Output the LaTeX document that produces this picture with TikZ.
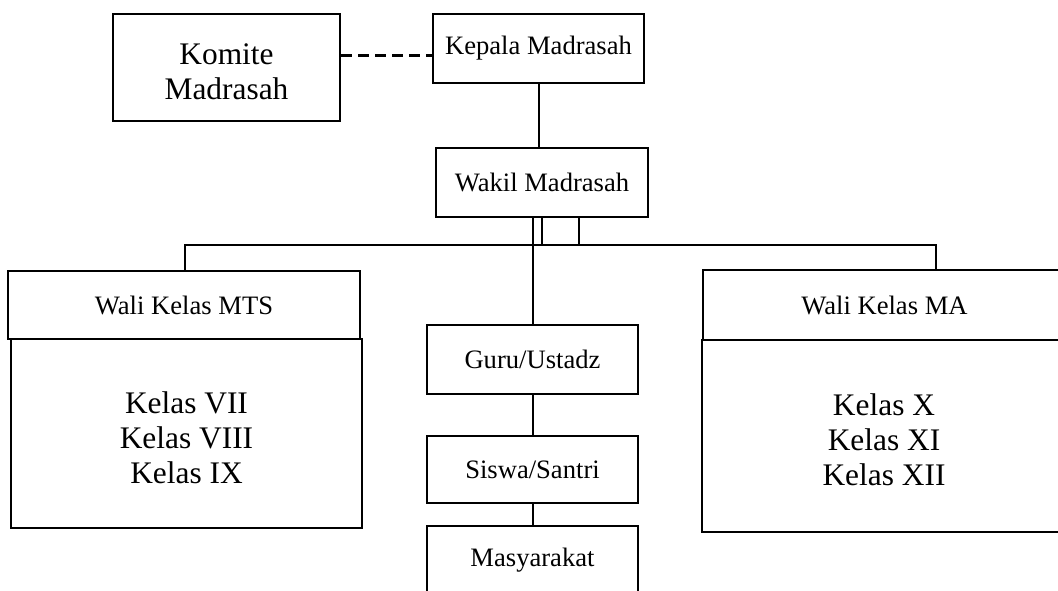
\documentclass[tikz,border=0pt]{standalone}
\usepackage{fontspec}
\setmainfont{Liberation Serif}
\begin{document}
\begin{tikzpicture}[x=1pt,y=-1pt,
  box/.style={draw,line width=2pt,inner sep=0pt,align=center},
  smalltext/.style={font=\fontsize{26.6}{30}\selectfont},
  bigtext/.style={font=\fontsize{31.4}{35}\selectfont},
  biglabel/.style={label={[bigtext,align=center,yshift=-4pt]center:#1}},
  conn/.style={line width=2pt},
  dash line/.style={line width=3pt,dash pattern=on 11pt off 6pt}]
\useasboundingbox (0,0) rectangle (1058,591);
\clip (0,0) rectangle (1058,591);
\node[box,minimum width=227pt,minimum height=107pt,biglabel={Komite\\Madrasah}] (komite) at (226.5,67.5) {};
\node[box,smalltext,minimum width=211pt,minimum height=69pt] (kepala) at (538.5,48.5) {Kepala Madrasah};
\node[box,smalltext,minimum width=212pt,minimum height=69pt] (wakil) at (542,182.5) {Wakil Madrasah};
\node[box,smalltext,minimum width=352pt,minimum height=68pt] (mtsh) at (184,305) {Wali Kelas MTS};
\node[box,minimum width=351pt,minimum height=189pt,biglabel={Kelas VII\\Kelas VIII\\Kelas IX}] (mtsb) at (186.5,433.5) {};
\node[box,smalltext,minimum width=363pt,minimum height=70pt] (mah) at (884.5,305) {Wali Kelas MA};
\node[box,minimum width=364pt,minimum height=192pt,biglabel={Kelas X\\Kelas XI\\Kelas XII}] (mab) at (884,436) {};
\node[box,smalltext,minimum width=211pt,minimum height=69pt] (guru) at (532.5,359.5) {Guru/Ustadz};
\node[box,smalltext,minimum width=211pt,minimum height=67pt] (siswa) at (532.5,469.5) {Siswa/Santri};
\node[box,smalltext,minimum width=211pt,minimum height=68pt] (masy) at (532.5,560) {Masyarakat};
\coordinate (dashy) at (0,56);
\coordinate (busL) at (185,245);
\coordinate (busR) at (936,245);
\coordinate (rectL) at (542,245);
\coordinate (rectR) at (579,245);
\draw[dash line] (komite.east |- dashy) -- (kepala.west |- dashy);
\draw[conn] (kepala.south) -- (kepala.south |- wakil.north);
\draw[conn] (busL |- mtsh.north) -- (busL) -- (busR) -- (busR |- mah.north);
\draw[conn] (wakil.south -| guru.north) -- (guru.north);
\draw[conn] (rectL |- wakil.south) -- (rectL) -- (rectR) -- (rectR |- wakil.south);
\draw[conn] (guru.south) -- (siswa.north);
\draw[conn] (siswa.south) -- (masy.north);
\end{tikzpicture}
\end{document}
